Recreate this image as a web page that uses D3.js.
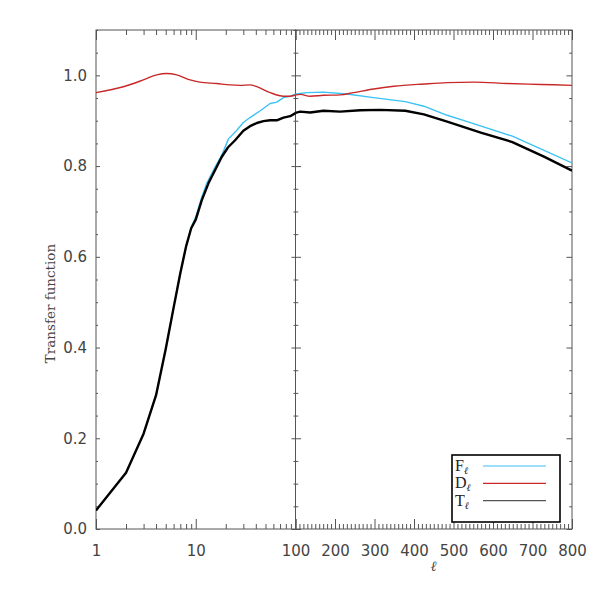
<!DOCTYPE html>
<html><head><meta charset="utf-8">
<script src="https://cdn.jsdelivr.net/npm/d3@7"></script>
<style>body{margin:0;background:#fff}svg{display:block}</style>
</head><body>
<svg id="c" width="591" height="591"></svg>
<script>
// ---- data ----
const tEll = [1,2,3,4,5,6,7,8,9,10,11.5,13.4,15.6,18.2,21,24.8,30,35,41,47.7,55.7,65,75.8,88.5,102,112,137,171,213,264,315,378,425,484,569,649,729,800];
const tVal = [0.041,0.124,0.21,0.295,0.397,0.488,0.564,0.623,0.663,0.682,0.725,0.762,0.791,0.820,0.841,0.857,0.878,0.888,0.895,0.899,0.901,0.901,0.907,0.910,0.918,0.920,0.918,0.922,0.920,0.923,0.924,0.922,0.914,0.898,0.874,0.853,0.821,0.790];
const fEll = [1,2,3,4,5,6,7,8,9,10,11.5,12.9,15.6,18.2,21.3,25.8,30,35,44.3,55.7,65,75.8,88.5,102,112,129,171,230,298,378,425,484,535,649,800];
const fVal = [0.041,0.124,0.21,0.295,0.397,0.488,0.564,0.623,0.665,0.688,0.732,0.762,0.798,0.824,0.860,0.879,0.896,0.907,0.922,0.938,0.941,0.951,0.954,0.959,0.960,0.962,0.963,0.959,0.951,0.942,0.932,0.912,0.898,0.866,0.807];
const dEll = [1,1.88,2.98,4.06,5.12,6.45,8.77,11,16.2,22,27.8,35,41,55.7,75.8,88.5,102,112,137,171,213,247,298,349,425,484,552,637,721,800];
const dVal = [0.962,0.975,0.990,1.001,1.004,1.001,0.990,0.985,0.982,0.979,0.978,0.979,0.975,0.962,0.954,0.954,0.957,0.958,0.954,0.956,0.957,0.962,0.970,0.976,0.981,0.984,0.985,0.982,0.980,0.978];
const yTicks = [0, 0.2, 0.4, 0.6, 0.8, 1.0];
const leftTicks = [1, 10, 100];
const rightTicks = [100, 200, 300, 400, 500, 600, 700, 800];
const legendNames = ["F", "D", "T"];
const yLabel = "Transfer function";
const xLabel = "ℓ";

// ---- layout ----
const svg = d3.select("#c");
const X0 = 96, XM = 295.5, X1 = 572, YT = 30, YB = 529;
const xL = d3.scaleLog().domain([1, 100]).range([X0, XM]);
const xR = d3.scaleLinear().domain([100, 800]).range([XM, X1]);
const y = d3.scaleLinear().domain([0, 1.1]).range([YB, YT]);
const axisCol = "#555";
const textCol = "#444";
const tickFont = "'DejaVu Sans', sans-serif";
const serif = "'DejaVu Serif', 'Liberation Serif', serif";

// minor ticks
const yMinor = d3.range(0, 1.1001, 0.05).map(v => +v.toFixed(2)).filter(v => !yTicks.some(t => Math.abs(t - v) < 1e-6));
const leftMinor = [];
[1, 10].forEach(d => { for (let k = 2; k <= 9; k++) leftMinor.push(d * k); });
const rightMinor = d3.range(100, 801, 10).filter(v => v % 100 !== 0);

function styleAxis(g) {
  g.select(".domain").remove();
  g.selectAll("line").attr("stroke", axisCol).attr("stroke-width", 1);
  g.selectAll("text").attr("fill", textCol).attr("font-family", tickFont).attr("font-size", 15);
}

function panel(xs, majors, minors, w, labelFilter) {
  const hx = 10, hy = 0.02 * w;
  svg.append("g").attr("transform", `translate(0,${YB})`)
    .call(d3.axisBottom(xs).tickValues(minors).tickSize(-hx / 2).tickFormat(""))
    .call(styleAxis);
  svg.append("g").attr("transform", `translate(0,${YB})`)
    .call(d3.axisBottom(xs).tickValues(majors).tickSizeInner(-hx).tickPadding(hx + 6)
      .tickFormat(d => labelFilter(d) ? String(d) : ""))
    .call(styleAxis);
  svg.append("g").attr("transform", `translate(0,${YT})`)
    .call(d3.axisTop(xs).tickValues(minors).tickSize(-hx / 2).tickFormat(""))
    .call(styleAxis);
  svg.append("g").attr("transform", `translate(0,${YT})`)
    .call(d3.axisTop(xs).tickValues(majors).tickSize(-hx).tickFormat(""))
    .call(styleAxis);
  const r = xs.range();
  svg.append("g").attr("transform", `translate(${r[0]},0)`)
    .call(d3.axisLeft(y).tickValues(yMinor).tickSize(-hy / 2).tickFormat(""))
    .call(styleAxis);
  svg.append("g").attr("transform", `translate(${r[1]},0)`)
    .call(d3.axisRight(y).tickValues(yMinor).tickSize(-hy / 2).tickFormat(""))
    .call(styleAxis);
  svg.append("g").attr("transform", `translate(${r[1]},0)`)
    .call(d3.axisRight(y).tickValues(yTicks).tickSize(-hy).tickFormat(""))
    .call(styleAxis);
  svg.append("g").attr("transform", `translate(${r[0]},0)`)
    .call(d3.axisLeft(y).tickValues(yTicks).tickSizeInner(-hy).tickPadding(hy + 5)
      .tickFormat(d => r[0] === X0 ? d3.format(".1f")(d) : ""))
    .call(styleAxis);
  svg.append("rect").attr("x", r[0]).attr("y", YT).attr("width", r[1] - r[0]).attr("height", YB - YT)
    .attr("fill", "none").attr("stroke", axisCol).attr("stroke-width", 1);
}

panel(xL, leftTicks, leftMinor, XM - X0, d => true);
panel(xR, rightTicks, rightMinor, X1 - XM, d => d !== 100);

const defs = svg.append("defs");
defs.append("clipPath").attr("id", "clipL").append("rect")
  .attr("x", X0).attr("y", YT).attr("width", XM - X0).attr("height", YB - YT);
defs.append("clipPath").attr("id", "clipR").append("rect")
  .attr("x", XM).attr("y", YT).attr("width", X1 - XM).attr("height", YB - YT);

const series = [
  { ell: fEll, val: fVal, color: "#3cc2f4", w: 1.4, curve: d3.curveLinear },
  { ell: dEll, val: dVal, color: "#c82828", w: 1.4, curve: d3.curveMonotoneX },
  { ell: tEll, val: tVal, color: "#000000", w: 2.4, curve: d3.curveLinear }
];

[[xL, "clipL"], [xR, "clipR"]].forEach(([xs, clip]) => {
  const g = svg.append("g").attr("clip-path", `url(#${clip})`);
  series.forEach(s => {
    const pts = s.ell.map((l, i) => [l, s.val[i]]);
    const line = d3.line().x(d => xs(d[0])).y(d => y(d[1])).curve(s.curve);
    g.append("path").datum(pts).attr("d", line)
      .attr("fill", "none").attr("stroke", s.color).attr("stroke-width", s.w)
      .attr("stroke-linejoin", "round");
  });
});

// axis labels
svg.append("text")
  .attr("transform", `translate(55,303.5) rotate(-90)`)
  .attr("text-anchor", "middle")
  .attr("font-family", serif).attr("font-size", 13.5)
  .attr("fill", textCol).text(yLabel);
svg.append("text")
  .attr("x", (XM + X1) / 2).attr("y", 571)
  .attr("text-anchor", "middle")
  .attr("font-family", "'DejaVu Serif', serif").attr("font-style", "italic").attr("font-size", 14)
  .attr("fill", textCol).text(xLabel);

// legend
const lg = svg.append("g");
lg.append("rect").attr("x", 452).attr("y", 455).attr("width", 108).attr("height", 67)
  .attr("fill", "#fff").attr("stroke", "#000").attr("stroke-width", 1.6);
const lgColors = ["#3cc2f4", "#c82828", "#555"];
legendNames.forEach((n, i) => {
  const cy = 466 + i * 17.3;
  const t = lg.append("text").attr("x", 455).attr("y", cy + 5)
    .attr("font-family", "'Liberation Serif', serif").attr("font-size", 16).attr("fill", "#222");
  t.append("tspan").text(n);
  t.append("tspan").attr("font-family", "'DejaVu Serif', serif").attr("font-style", "italic")
    .attr("font-size", 10).attr("dy", 3).text("ℓ");
  lg.append("line").attr("x1", 483).attr("x2", 546).attr("y1", cy).attr("y2", cy)
    .attr("stroke", lgColors[i]).attr("stroke-width", 1.2);
});
</script>
</body></html>
